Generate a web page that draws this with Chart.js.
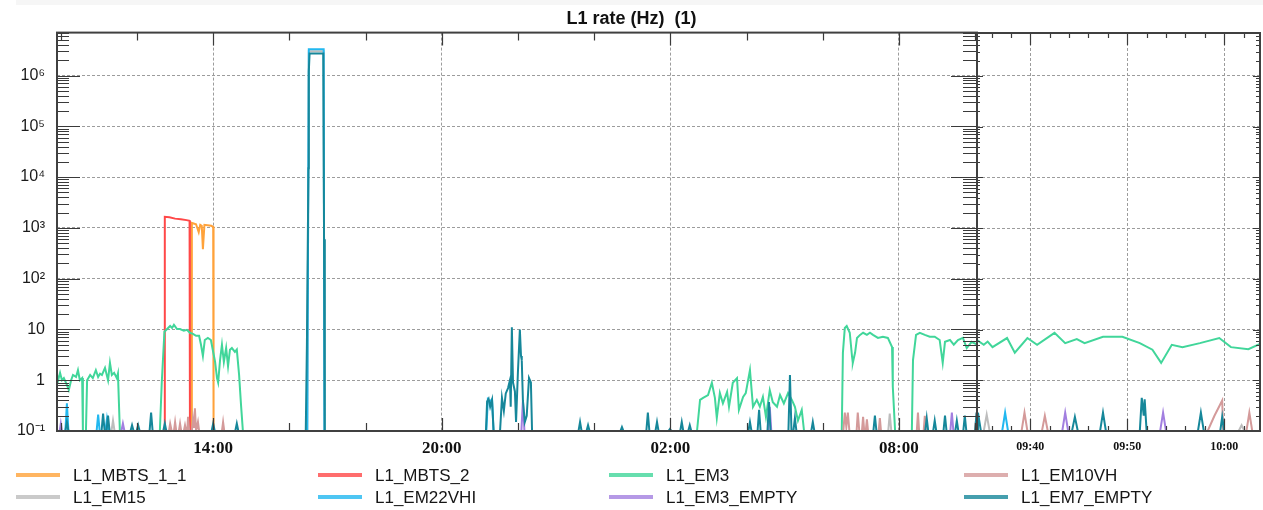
<!DOCTYPE html>
<html>
<head>
<meta charset="utf-8">
<script src="https://cdn.jsdelivr.net/npm/chart.js@4/dist/chart.umd.min.js"></script>
<style>
  html, body { margin: 0; padding: 0; background: #fff; }
  #wrap { position: relative; width: 1263px; height: 510px; overflow: hidden; background: #fff; }
  #band { position: absolute; left: 16px; top: 0; width: 1247px; height: 5px; background: #f6f6f6; }
  #cMain { position: absolute; left: 0; top: 0; }
  #cZoom { position: absolute; left: 977px; top: 0; }
</style>
</head>
<body>
<div id="wrap">
  <div id="band"></div>
  <canvas id="cMain" width="1263" height="510"></canvas>
  <canvas id="cZoom" width="286" height="510"></canvas>
</div>
<script>
// L1 trigger rates, left panel: time in hours since 00:00 of the first day
// right panel: last half hour, time in minutes since 00:00 of the second day

const labels = ['L1_MBTS_1_1', 'L1_MBTS_2', 'L1_EM3', 'L1_EM10VH', 'L1_EM15', 'L1_EM22VHI', 'L1_EM3_EMPTY', 'L1_EM7_EMPTY'];
const colors = ['#ffa23a', '#ff4848', '#41d69a', '#d49a9a', '#bdbdbd', '#22b8f0', '#a27fe0', '#16879a'];

const mainLabelHours = [14, 20, 26, 32];
const zoomLabelMinutes = [580, 590, 600];
const yTickLabels = ['10⁻¹', '1', '10', '10²', '10³', '10⁴', '10⁵', '10⁶'];

// [hour, rate]
const mbts11 = [[9.9, 0.1], [13.43, 0.1], [13.44, 1250], [13.55, 1180], [13.62, 820], [13.66, 1150], [13.70, 1100],
  [13.73, 380], [13.77, 1150], [13.85, 1130], [13.95, 1100], [14.0, 1050], [14.01, 0.1], [34.05, 0.1]];

const mbts2 = [[9.9, 0.1], [12.72, 0.1], [12.73, 1650], [12.85, 1620], [13.0, 1520], [13.15, 1480], [13.3, 1420],
  [13.38, 1380], [13.39, 0.1], [34.05, 0.1]];

const em3 = [[9.9, 1.27], [9.93, 1.0], [9.98, 1.4], [10.03, 1.0], [10.08, 1.1], [10.16, 0.81], [10.21, 0.64], [10.27, 1.0],
  [10.32, 1.27], [10.40, 1.16], [10.45, 1.58], [10.50, 1.0], [10.56, 1.1], [10.58, 0.1], [10.66, 0.1], [10.69, 1.0],
  [10.77, 1.27], [10.84, 1.1], [10.92, 1.58], [10.98, 1.16], [11.03, 1.35], [11.08, 1.27], [11.16, 1.75], [11.24, 1.0],
  [11.29, 2.2], [11.34, 1.27], [11.40, 1.4], [11.47, 1.1], [11.50, 1.35], [11.55, 0.1],
  [12.60, 0.1], [12.65, 0.9], [12.72, 9.0], [12.79, 10.2], [12.87, 11.7], [12.92, 10.7], [12.97, 12.3], [13.05, 10.2],
  [13.13, 10.2], [13.23, 9.4], [13.31, 9.8], [13.39, 8.6], [13.47, 8.2], [13.55, 7.5], [13.63, 7.5], [13.68, 5.0],
  [13.73, 3.0], [13.78, 6.2], [13.86, 6.8], [13.94, 6.2], [14.0, 3.6], [14.05, 2.3], [14.10, 1.1], [14.13, 0.9],
  [14.18, 2.5], [14.23, 5.0], [14.28, 2.3], [14.34, 4.3], [14.39, 1.9], [14.44, 4.0], [14.49, 4.3], [14.57, 3.6],
  [14.62, 4.0], [14.68, 1.27], [14.73, 0.33], [14.78, 0.1],
  [26.70, 0.1], [26.78, 0.41], [26.86, 0.45], [26.99, 0.51], [27.09, 0.89], [27.17, 0.45], [27.22, 0.18], [27.30, 0.56],
  [27.38, 0.35], [27.49, 0.59], [27.54, 0.30], [27.64, 0.89], [27.75, 1.1], [27.80, 0.26], [27.91, 0.47], [27.98, 0.56],
  [28.09, 1.58], [28.17, 0.30], [28.27, 0.41], [28.35, 0.30], [28.43, 0.47], [28.51, 0.19], [28.61, 0.64], [28.69, 0.37],
  [28.80, 0.30], [28.88, 0.51], [28.98, 0.35], [29.09, 0.56], [29.19, 0.41], [29.27, 0.30], [29.35, 0.16], [29.45, 0.26],
  [29.51, 0.1],
  [30.50, 0.1], [30.53, 3.5], [30.58, 10.7], [30.63, 11.7], [30.71, 8.6], [30.77, 2.9], [30.79, 2.2], [30.85, 3.5],
  [30.90, 6.8], [30.98, 7.8], [31.06, 8.6], [31.16, 7.8], [31.24, 8.6], [31.32, 7.8], [31.45, 6.8], [31.58, 7.2],
  [31.71, 6.8], [31.82, 4.5], [31.84, 0.74], [31.90, 0.1],
  [32.34, 0.1], [32.37, 2.5], [32.45, 7.8], [32.55, 8.6], [32.68, 7.8], [32.81, 7.2], [32.94, 7.2], [33.07, 6.2],
  [33.15, 2.2], [33.21, 5.7], [33.34, 6.2], [33.44, 5.0], [33.55, 6.2], [33.68, 6.8], [33.78, 4.3], [33.91, 5.7],
  [34.05, 5.0]];

const em10vh = [[9.9, 0.1], [12.84, 0.1], [12.87, 0.14], [12.91, 0.1], [12.97, 0.1], [13.0, 0.15], [13.03, 0.1],
  [13.10, 0.1], [13.13, 0.14], [13.16, 0.1], [13.23, 0.1], [13.26, 0.13], [13.29, 0.1], [13.32, 0.1], [13.34, 0.19],
  [13.37, 0.1], [13.44, 0.1], [13.47, 0.18], [13.50, 0.12], [13.52, 0.28], [13.55, 0.1], [13.57, 0.1], [13.60, 0.15],
  [13.63, 0.1], [14.23, 0.1], [14.26, 0.15], [14.29, 0.1],
  [30.54, 0.1], [30.58, 0.23], [30.62, 0.12], [30.66, 0.23], [30.70, 0.1], [30.89, 0.1], [30.92, 0.23], [30.96, 0.1],
  [31.03, 0.1], [31.06, 0.19], [31.09, 0.1], [31.13, 0.1], [31.16, 0.17], [31.19, 0.1], [31.47, 0.1], [31.50, 0.18],
  [31.53, 0.1], [32.47, 0.1], [32.50, 0.23], [32.53, 0.1], [32.65, 0.1], [32.68, 0.2], [32.71, 0.1], [34.0, 0.1],
  [34.04, 0.23], [34.05, 0.15]];

const em15 = [[9.9, 0.1], [11.33, 0.1], [11.37, 0.16], [11.41, 0.1], [16.47, 0.1], [16.51, 3.0e6], [16.90, 3.0e6],
  [16.92, 0.1], [31.72, 0.1], [31.76, 0.22], [31.80, 0.1], [34.05, 0.1]];

const em22vhi = [[9.9, 0.1], [10.12, 0.1], [10.16, 0.35], [10.20, 0.1], [10.94, 0.1], [10.98, 0.21], [11.02, 0.1],
  [11.17, 0.1], [11.21, 0.17], [11.25, 0.1], [16.47, 0.1], [16.51, 3.3e6], [16.90, 3.3e6], [16.92, 0.1],
  [21.17, 0.1], [21.21, 0.42], [21.26, 0.38], [21.32, 0.42], [21.36, 0.1], [34.05, 0.1]];

const em3empty = [[9.9, 0.1], [9.97, 0.1], [10.0, 0.14], [10.03, 0.1], [11.59, 0.1], [11.63, 0.14], [11.67, 0.1],
  [22.09, 0.1], [22.13, 0.4], [22.17, 0.1], [28.57, 0.1], [28.61, 0.3], [28.65, 0.1], [33.35, 0.1], [33.39, 0.23],
  [33.43, 0.1], [34.05, 0.1]];

const em7empty = [[9.9, 0.1], [10.12, 0.1], [10.16, 0.15], [10.20, 0.1], [11.07, 0.1], [11.11, 0.22], [11.15, 0.1],
  [11.20, 0.1], [11.24, 0.2], [11.28, 0.1], [11.83, 0.1], [11.87, 0.13], [11.91, 0.1], [11.99, 0.1], [12.03, 0.13],
  [12.07, 0.1], [12.33, 0.1], [12.37, 0.23], [12.41, 0.1], [12.69, 0.1], [12.73, 0.14], [12.77, 0.1], [13.96, 0.1],
  [14.0, 0.14], [14.04, 0.1], [14.58, 0.1], [14.62, 0.14], [14.66, 0.1],
  [16.43, 0.1], [16.46, 5], [16.50, 1.5e4], [16.51, 1.2e6], [16.53, 2.7e6], [16.89, 2.7e6], [16.91, 600], [16.93, 0.1],
  [21.16, 0.1], [21.19, 0.38], [21.23, 0.43], [21.27, 0.3], [21.32, 0.41], [21.36, 0.1], [21.53, 0.1], [21.58, 0.45],
  [21.63, 0.25], [21.68, 0.55], [21.74, 0.7], [21.79, 1.0], [21.81, 0.3], [21.84, 11], [21.87, 0.9], [21.92, 0.6],
  [21.95, 0.15], [22.0, 1.5], [22.05, 10], [22.08, 3], [22.10, 2.5], [22.13, 0.4], [22.18, 0.15], [22.23, 0.2],
  [22.29, 1.1], [22.34, 0.9], [22.37, 0.1],
  [23.59, 0.1], [23.63, 0.15], [23.67, 0.1], [23.80, 0.1], [23.84, 0.13], [23.88, 0.1], [24.69, 0.1], [24.73, 0.12],
  [24.77, 0.1], [25.37, 0.1], [25.41, 0.23], [25.45, 0.1], [25.61, 0.1], [25.65, 0.15], [25.69, 0.1], [25.95, 0.1],
  [25.99, 0.11], [26.03, 0.1], [26.26, 0.1], [26.30, 0.15], [26.34, 0.1], [26.47, 0.1], [26.51, 0.13], [26.55, 0.1],
  [28.05, 0.1], [28.09, 0.15], [28.13, 0.1], [28.29, 0.1], [28.33, 0.26], [28.37, 0.1], [28.55, 0.1], [28.59, 0.37],
  [28.63, 0.1], [29.10, 0.1], [29.14, 1.27], [29.18, 0.1], [29.23, 0.1], [29.27, 0.18], [29.31, 0.1], [29.70, 0.1],
  [29.74, 0.15], [29.78, 0.1], [31.33, 0.1], [31.37, 0.2], [31.41, 0.1], [32.69, 0.1], [32.73, 0.18], [32.77, 0.1],
  [32.90, 0.1], [32.94, 0.16], [32.98, 0.1], [33.17, 0.1], [33.21, 0.2], [33.25, 0.1], [33.48, 0.1], [33.52, 0.16],
  [33.56, 0.1], [33.69, 0.1], [33.73, 0.2], [33.77, 0.1], [34.0, 0.1], [34.04, 0.23], [34.05, 0.15]];

// zoomed panel, [minute, rate]
const em3Zoom = [[574.5, 6.2], [575.2, 5.0], [575.6, 5.8], [576.1, 4.5], [577.6, 6.8], [578.4, 3.5], [579.7, 6.8],
  [580.7, 5.0], [582.5, 8.6], [583.6, 5.4], [584.8, 6.5], [585.6, 5.4], [587.5, 7.2], [589.5, 7.2], [591.3, 5.4],
  [592.6, 4.0], [593.5, 2.2], [594.6, 5.0], [595.7, 4.5], [597.5, 5.4], [599.5, 6.8], [600.7, 4.5], [602.5, 4.1],
  [603.7, 5.2]];
const em10Zoom = [[574.5, 0.1], [579.1, 0.1], [579.4, 0.23], [579.7, 0.1], [581.2, 0.1], [581.5, 0.2], [581.8, 0.1],
  [598.3, 0.1], [599.0, 0.2], [599.8, 0.4], [599.9, 0.1], [602.3, 0.1], [602.6, 0.23], [602.9, 0.1], [603.7, 0.1]];
const em15Zoom = [[574.5, 0.1], [575.2, 0.1], [575.5, 0.21], [575.8, 0.1], [601.5, 0.1], [601.8, 0.13], [602.1, 0.1],
  [603.7, 0.1]];
const em22Zoom = [[574.5, 0.1], [577.1, 0.1], [577.4, 0.23], [577.7, 0.1], [603.7, 0.1]];
const em3eZoom = [[574.5, 0.1], [583.3, 0.1], [583.6, 0.23], [583.9, 0.1], [593.4, 0.1], [593.7, 0.23], [594.0, 0.1],
  [603.7, 0.1]];
const em7eZoom = [[574.5, 0.1], [574.6, 0.23], [574.9, 0.1], [584.3, 0.1], [584.6, 0.19], [584.9, 0.1], [587.2, 0.1],
  [587.5, 0.23], [587.8, 0.1], [591.3, 0.1], [591.5, 0.45], [591.7, 0.2], [591.8, 0.42], [592.0, 0.1], [597.3, 0.1],
  [597.6, 0.23], [597.9, 0.1], [599.6, 0.1], [599.8, 0.19], [600.0, 0.1], [603.7, 0.1]];

function isDecade(v) {
  const l = Math.log10(v);
  return Math.abs(l - Math.round(l)) < 1e-6;
}
function pad2(n) { return (n < 10 ? '0' : '') + n; }

function makeSet(i, pts) {
  return {
    label: labels[i],
    borderColor: colors[i],
    backgroundColor: colors[i],
    data: pts.map(p => ({ x: p[0], y: p[1] })),
    borderWidth: 2,
    pointRadius: 0,
    tension: 0,
    fill: false,
    order: 7 - i   // last one on top, like the original
  };
}

// ticks pointing inwards + frame
const tickMarks = {
  id: 'tickMarks',
  afterDatasetsDraw(chart, args, o) {
    const { ctx, chartArea: a } = chart;
    const xs = chart.scales.x, ys = chart.scales.y;
    ctx.save();
    ctx.strokeStyle = '#3a3a3a';
    ctx.lineWidth = 1.2;
    ctx.beginPath();
    xs.ticks.forEach(t => {
      const px = Math.round(xs.getPixelForValue(t.value)) + 0.5;
      const len = t.label ? o.xMajor : o.xMinor;
      ctx.moveTo(px, a.bottom); ctx.lineTo(px, a.bottom - len);
      ctx.moveTo(px, a.top); ctx.lineTo(px, a.top + len);
    });
    ys.ticks.forEach(t => {
      const e = Math.floor(Math.log10(t.value) + 1e-9);
      const m = t.value / Math.pow(10, e);
      if (Math.abs(m - Math.round(m)) > 0.01) return;
      const py = Math.round(ys.getPixelForValue(t.value)) + 0.5;
      const major = Math.abs(m - 1) < 0.01;
      ctx.moveTo(a.left, py); ctx.lineTo(a.left + (major ? o.yMajorL : o.yMinorL), py);
      ctx.moveTo(a.right, py); ctx.lineTo(a.right - (major ? o.yMajorR : o.yMinorR), py);
    });
    ctx.stroke();
    ctx.lineWidth = 2;
    ctx.strokeStyle = '#404040';
    ctx.strokeRect(a.left, a.top, a.right - a.left, a.bottom - a.top);
    ctx.restore();
  }
};

// legend in 4 fixed columns under the plot
const colLegend = {
  id: 'colLegend',
  afterDraw(chart) {
    const ctx = chart.ctx;
    const colX = [16, 318, 609, 964], rowY = [475, 497];
    ctx.save();
    ctx.font = '17px "Liberation Sans", "DejaVu Sans", sans-serif';
    ctx.textBaseline = 'middle';
    chart.data.datasets.forEach((ds, i) => {
      const x = colX[i % 4], y = rowY[Math.floor(i / 4)];
      ctx.globalAlpha = 0.8;
      ctx.strokeStyle = ds.borderColor;
      ctx.lineWidth = 4;
      ctx.beginPath(); ctx.moveTo(x, y); ctx.lineTo(x + 44, y); ctx.stroke();
      ctx.globalAlpha = 1;
      ctx.fillStyle = '#151515';
      ctx.fillText(ds.label, x + 57, y + 1);
    });
    ctx.restore();
  }
};

function yScale(withLabels) {
  return {
    type: 'logarithmic',
    min: 0.1,
    max: 7e6,
    afterFit: s => { s.width = withLabels ? 57 : 0; },
    grid: { color: c => (isDecade(c.tick.value) ? '#9c9c9c' : 'rgba(0,0,0,0)'), drawTicks: false, lineWidth: 1 },
    border: { display: false, dash: [3, 2] },
    ticks: {
      display: withLabels,
      autoSkip: false,
      padding: 12,
      color: '#1a1a1a',
      font: { family: 'Liberation Sans', size: 16 },
      callback: v => (isDecade(v) ? yTickLabels[Math.round(Math.log10(v)) + 1] : '')
    }
  };
}

const mainChart = new Chart(document.getElementById('cMain'), {
  type: 'line',
  data: { datasets: [mbts11, mbts2, em3, em10vh, em15, em22vhi, em3empty, em7empty].map((p, i) => makeSet(i, p)) },
  options: {
    responsive: false,
    animation: false,
    events: [],
    plugins: {
      legend: { display: false },
      tooltip: { enabled: false },
      title: {
        display: true,
        text: 'L1 rate (Hz)  (1)',
        color: '#111',
        font: { family: 'Liberation Sans', size: 18, weight: 'bold' },
        padding: { top: 8, bottom: 3 }
      },
      tickMarks: { xMinor: 8, xMajor: 13, yMinorL: 12, yMajorL: 23, yMinorR: 14, yMajorR: 26 }
    },
    scales: {
      x: {
        type: 'linear',
        min: 9.9,
        max: 34.05,
        afterFit: s => { s.height = 79; },
        grid: { color: c => (mainLabelHours.includes(c.tick.value) ? '#9c9c9c' : 'rgba(0,0,0,0)'), drawTicks: false },
        border: { display: false, dash: [3, 2] },
        ticks: {
          stepSize: 2,
          includeBounds: false,
          autoSkip: false,
          maxRotation: 0,
          padding: 7,
          color: '#111',
          font: { family: 'Liberation Serif', size: 17, weight: 'bold' },
          callback: v => (mainLabelHours.includes(v) ? pad2(v % 24) + ':00' : '')
        }
      },
      y: yScale(true),
      yR: {
        position: 'right',
        afterFit: s => { s.width = 286; },
        grid: { display: false },
        border: { display: false },
        ticks: { display: false }
      }
    }
  },
  plugins: [tickMarks, colLegend]
});

const zoomChart = new Chart(document.getElementById('cZoom'), {
  type: 'line',
  data: {
    datasets: [
      makeSet(2, em3Zoom), makeSet(3, em10Zoom), makeSet(4, em15Zoom),
      makeSet(5, em22Zoom), makeSet(6, em3eZoom), makeSet(7, em7eZoom)
    ]
  },
  options: {
    responsive: false,
    animation: false,
    events: [],
    layout: { padding: { top: 33, right: 3, left: 0, bottom: 0 } },
    plugins: {
      legend: { display: false },
      tooltip: { enabled: false },
      tickMarks: { xMinor: 5, xMajor: 12, yMinorL: 3, yMajorL: 6, yMinorR: 4, yMajorR: 7 }
    },
    scales: {
      x: {
        type: 'linear',
        min: 574.5,
        max: 603.7,
        afterFit: s => { s.height = 79; },
        grid: { color: c => (zoomLabelMinutes.includes(c.tick.value) ? '#9c9c9c' : 'rgba(0,0,0,0)'), drawTicks: false },
        border: { display: false, dash: [3, 2] },
        ticks: {
          stepSize: 2,
          includeBounds: false,
          autoSkip: false,
          maxRotation: 0,
          padding: 9,
          color: '#111',
          font: { family: 'Liberation Serif', size: 12, weight: 'bold' },
          callback: v => (zoomLabelMinutes.includes(v) ? pad2(Math.floor(v / 60)) + ':' + pad2(v % 60) : '')
        }
      },
      y: yScale(false)
    }
  },
  plugins: [tickMarks]
});
</script>
</body>
</html>
